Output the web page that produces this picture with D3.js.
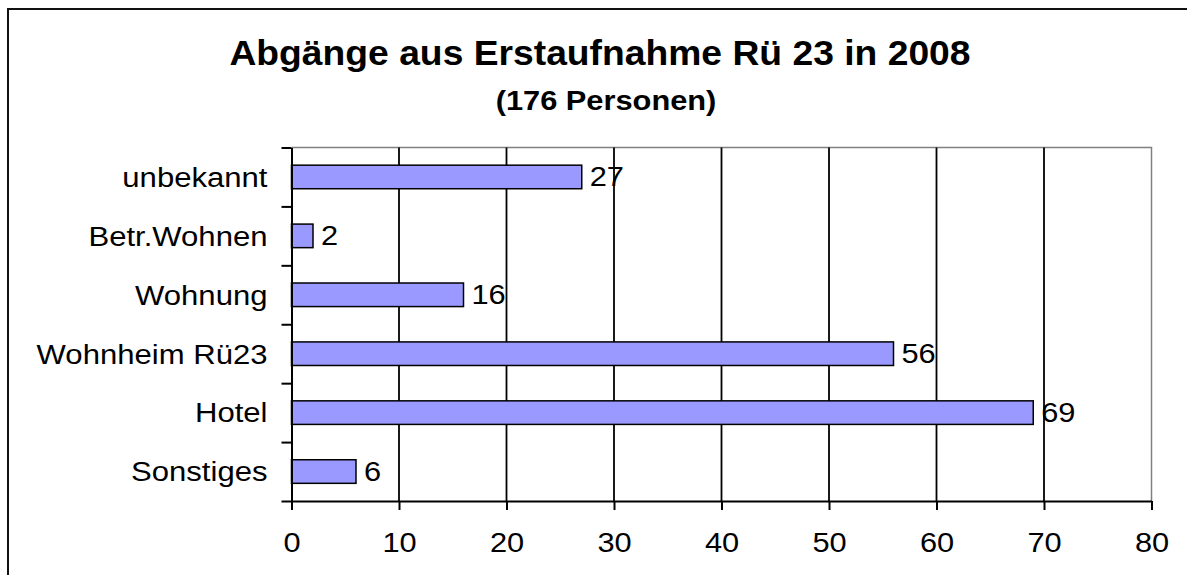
<!DOCTYPE html>
<html>
<head>
<meta charset="utf-8">
<script src="https://cdn.jsdelivr.net/npm/d3@7"></script>
<style>
  body { margin: 0; background: #fff; }
  text { font-family: "Liberation Sans", Arial, sans-serif; fill: #000; }
</style>
</head>
<body>
<div id="chart"></div>
<script>
// Data
const categories = ["unbekannt", "Betr.Wohnen", "Wohnung", "Wohnheim Rü23", "Hotel", "Sonstiges"];
const values = [27, 2, 16, 56, 69, 6];
const xTicks = [0, 10, 20, 30, 40, 50, 60, 70, 80];
const title = "Abgänge aus Erstaufnahme Rü 23 in 2008";
const subtitle = "(176 Personen)";

const W = 1187, H = 575;
const plot = { left: 291.5, right: 1151.5, top: 147.5, bottom: 501 };
const sx = 1.1; // the reference glyphs are slightly stretched horizontally

const svg = d3.select("#chart").append("svg")
  .attr("width", W)
  .attr("height", H);

// Outer frame (right and bottom edges are cut off in the reference)
svg.append("path")
  .attr("d", `M8,${H + 5} V9 H${W + 5}`)
  .attr("fill", "none")
  .attr("stroke", "#111")
  .attr("stroke-width", 2);

// Titles
svg.append("text")
  .attr("transform", "translate(600,65) scale(1.035,1)")
  .attr("text-anchor", "middle")
  .style("font-size", "36px").style("font-weight", "bold")
  .text(title);

svg.append("text")
  .attr("transform", "translate(606,110) scale(1.1,1)")
  .attr("text-anchor", "middle")
  .style("font-size", "28px").style("font-weight", "bold")
  .text(subtitle);

// Scales
const x = d3.scaleLinear()
  .domain([0, 80])
  .range([plot.left, plot.right]);

const y = d3.scaleBand()
  .domain(categories)
  .range([plot.top, plot.bottom])
  .paddingInner(0.6)
  .paddingOuter(0.3);

// index scale for the category boundary ticks
const yEdge = d3.scaleLinear()
  .domain([0, categories.length])
  .range([plot.top, plot.bottom]);

// Plot area top and right border (gray)
svg.append("path")
  .attr("d", `M${plot.left},${plot.top} H${plot.right} V${plot.bottom}`)
  .attr("fill", "none")
  .attr("stroke", "#808080")
  .attr("stroke-width", 1.5);

// Vertical gridlines
svg.append("g")
  .selectAll("line")
  .data(xTicks.filter(d => d > 0 && d < 80))
  .join("line")
  .attr("x1", d => x(d)).attr("x2", d => x(d))
  .attr("y1", plot.top).attr("y2", plot.bottom)
  .attr("stroke", "#000")
  .attr("stroke-width", 1.8);

// Bars
svg.append("g")
  .selectAll("rect")
  .data(values)
  .join("rect")
  .attr("x", x(0))
  .attr("y", (d, i) => y(categories[i]))
  .attr("width", d => x(d) - x(0))
  .attr("height", y.bandwidth())
  .attr("fill", "#9999ff")
  .attr("stroke", "#000")
  .attr("stroke-width", 1.5);

// Value labels
svg.append("g")
  .selectAll("text")
  .data(values)
  .join("text")
  .attr("transform", (d, i) =>
    `translate(${x(d) + 8},${y(categories[i]) + y.bandwidth() / 2}) scale(${sx},1)`)
  .attr("dy", "0.33em")
  .style("font-size", "28px")
  .text(d => d);

// X axis
const xAxis = svg.append("g")
  .attr("transform", `translate(0,${plot.bottom})`)
  .call(d3.axisBottom(x).tickValues(xTicks).tickSize(9).tickPadding(22).tickSizeOuter(0));
xAxis.select(".domain").attr("stroke", "#000").attr("stroke-width", 2);
xAxis.selectAll(".tick line").attr("stroke", "#000").attr("stroke-width", 2);
xAxis.selectAll(".tick text")
  .attr("font-family", null).attr("font-size", null)
  .attr("transform", `scale(${sx},1)`)
  .style("font-size", "28px");

// Y axis: boundary ticks
const yTickAxis = svg.append("g")
  .attr("transform", `translate(${plot.left},0)`)
  .call(d3.axisLeft(yEdge).ticks(categories.length).tickSize(10).tickFormat("").tickSizeOuter(0));
yTickAxis.select(".domain").attr("stroke", "#000").attr("stroke-width", 2);
yTickAxis.selectAll(".tick line").attr("stroke", "#000").attr("stroke-width", 2);

// Y axis: category labels
const yLabelAxis = svg.append("g")
  .attr("transform", `translate(${plot.left},0)`)
  .call(d3.axisLeft(y).tickSize(0).tickPadding(0));
yLabelAxis.select(".domain").remove();
yLabelAxis.selectAll(".tick text")
  .attr("font-family", null).attr("font-size", null)
  .attr("x", -24 / 1.11)
  .attr("dy", "0.35em")
  .attr("transform", "scale(1.11,1)")
  .style("font-size", "28px");
</script>
</body>
</html>
